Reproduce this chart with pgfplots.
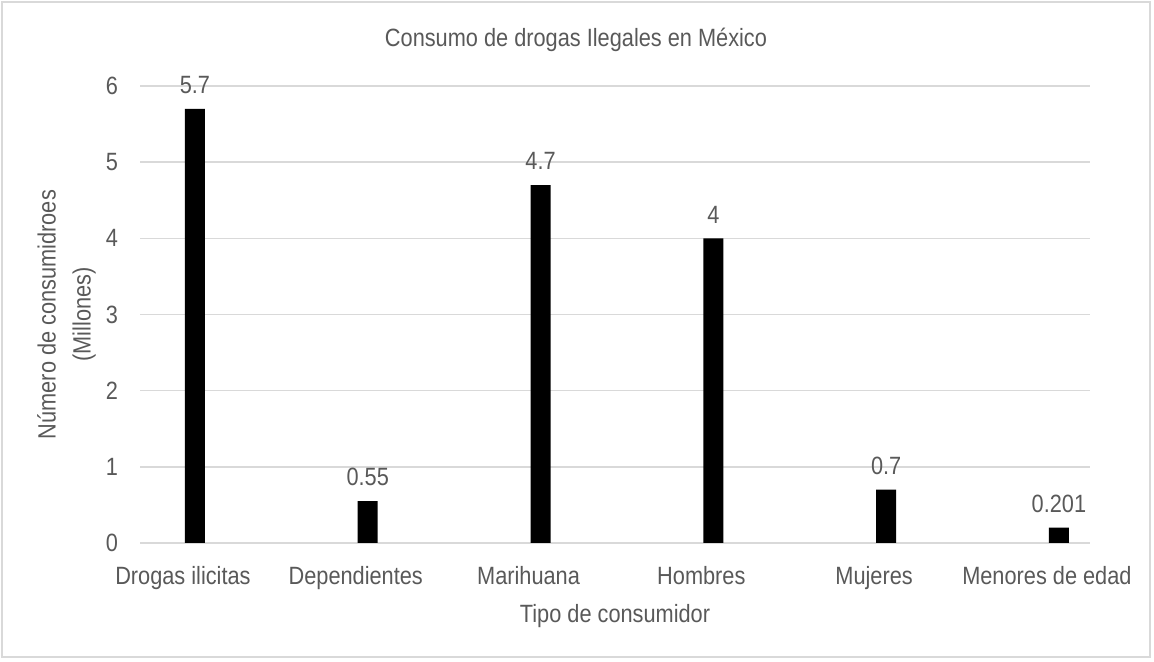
\documentclass[border=0pt]{standalone}
\usepackage{pgfplots}
\pgfplotsset{compat=1.18}
\usepackage{fontspec}
\setmainfont{Liberation Sans}[FakeStretch=0.87]
\definecolor{txt}{HTML}{595959}
\definecolor{gridc}{HTML}{D9D9D9}
\begin{document}
\begin{tikzpicture}
\useasboundingbox (0,0) rectangle (577pt,331pt);
\draw[gridc, line width=0.8pt] (1pt,2.5pt) rectangle (575pt,330pt);
\node[text=txt, font=\fontsize{12.5}{15}\selectfont] at (288pt,311pt) {Consumo de drogas Ilegales en México};
\begin{axis}[
  at={(70pt,59.5pt)}, anchor=south west,
  scale only axis, width=475pt, height=228.5pt,
  xmin=-0.318, xmax=5.18, ymin=0, ymax=6,
  ytick={0,1,2,3,4,5,6},
  xtick={0,1,2,3,4,5},
  xticklabels={Drogas ilicitas,Dependientes,Marihuana,Hombres,Mujeres,Menores de edad},
  major tick length=0pt,
  axis line style={draw=none},
  ymajorgrids, grid style={gridc, line width=0.8pt},
  /pgf/number format/assume math mode=true,
  tick label style={text=txt, font=\fontsize{12.5}{15}\selectfont},
  yticklabel style={xshift=-7.5pt},
  xticklabel style={xshift=-6pt, yshift=-8pt},
  xlabel={Tipo de consumidor},
  xlabel style={at={(axis description cs:0.5,-0.16)}, anchor=center, text=txt, font=\fontsize{12.5}{15}\selectfont},
  ylabel={Número de consumidroes\\(Millones)},
  ylabel style={at={(axis description cs:-0.039,0.5)}, anchor=south, align=center, text=txt, font=\fontsize{12.5}{17.5}\selectfont},
  nodes near coords,
  point meta=explicit symbolic,
  every node near coord/.append style={text=txt, font=\fontsize{12.5}{15}\selectfont, anchor=south, yshift=4pt},
]
\addplot[ybar, bar width=10pt, fill=black, draw=none] coordinates {
  (0,5.7) [5.7]
  (1,0.55) [0.55]
  (2,4.7) [4.7]
  (3,4) [4]
  (4,0.7) [0.7]
  (5,0.201) [0.201]
};
\end{axis}
\end{tikzpicture}
\end{document}
